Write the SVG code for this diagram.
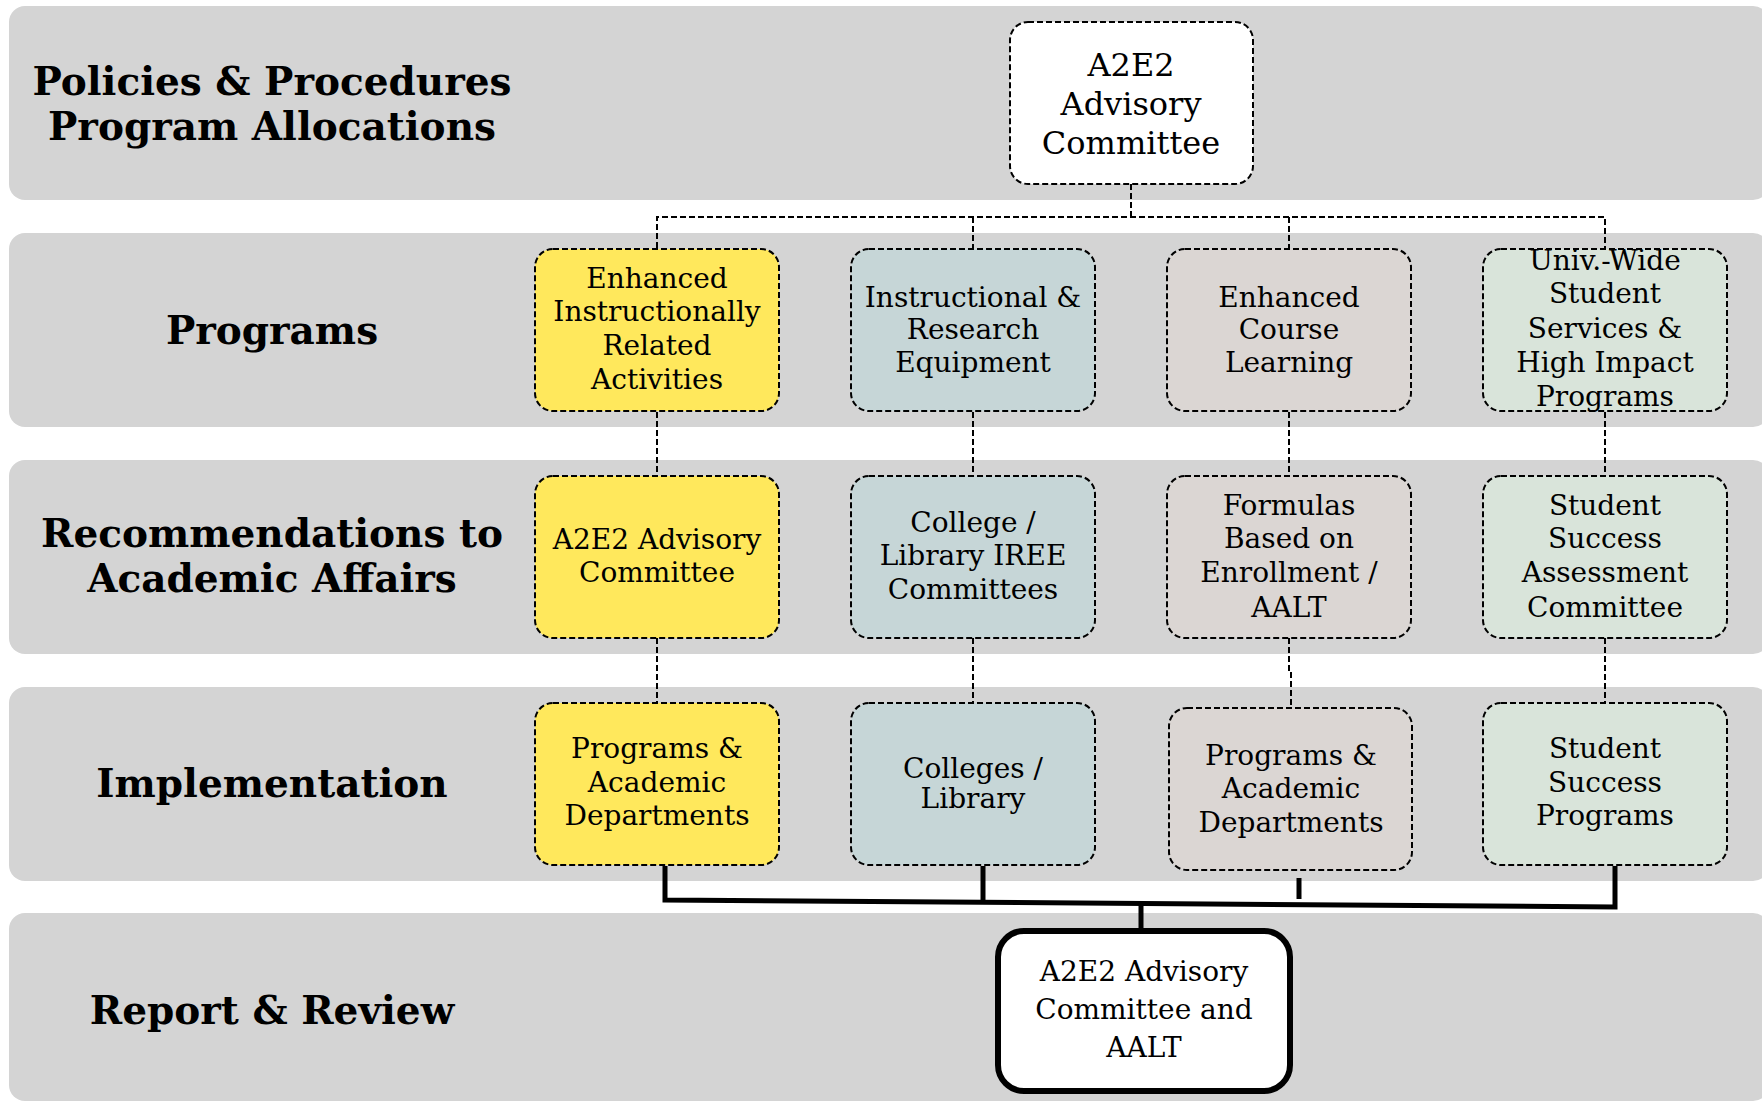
<svg xmlns="http://www.w3.org/2000/svg" width="1762" height="1104" viewBox="0 0 1762 1104">
<style>
.band{fill:#d4d4d4}
.lbl{font-family:"DejaVu Serif","Liberation Serif",serif;font-weight:bold;font-size:39px;fill:#000;text-anchor:middle}
.t{font-family:"DejaVu Serif","Liberation Serif",serif;font-size:28px;fill:#000;text-anchor:middle}
.tb{font-family:"DejaVu Serif","Liberation Serif",serif;font-size:32px;fill:#000;text-anchor:middle}
.n{stroke:#000;stroke-width:2;stroke-dasharray:6 3}
.dc{fill:none;stroke:#000;stroke-width:2;stroke-dasharray:6 3}
.sc{fill:none;stroke:#000;stroke-width:5}
.y{fill:#ffe85c}.b{fill:#c6d6d7}.g{fill:#dbd6d3}.gr{fill:#d9e4da}.w{fill:#fff}
</style>
<g id="bands">
<rect class="band" x="9" y="6" width="1760" height="194" rx="16"/>
<rect class="band" x="9" y="233" width="1760" height="194" rx="16"/>
<rect class="band" x="9" y="460" width="1760" height="194" rx="16"/>
<rect class="band" x="9" y="687" width="1760" height="194" rx="16"/>
<rect class="band" x="9" y="913" width="1760" height="188" rx="16"/>
</g>
<g id="labels">
<text class="lbl" x="272" y="95">Policies &amp; Procedures</text>
<text class="lbl" x="272" y="140">Program Allocations</text>
<text class="lbl" x="272" y="344">Programs</text>
<text class="lbl" x="272" y="547">Recommendations to</text>
<text class="lbl" x="272" y="592">Academic Affairs</text>
<text class="lbl" x="272" y="797">Implementation</text>
<text class="lbl" x="272" y="1024">Report &amp; Review</text>
</g>
<g id="connectors">
<polyline class="dc" points="1131,184 1131,217"/>
<polyline class="dc" points="657,248 657,217 1605,217 1605,248"/>
<polyline class="dc" points="973,217 973,248"/>
<polyline class="dc" points="1289,217 1289,248"/>
<line class="dc" x1="657" y1="412" x2="657" y2="475"/>
<line class="dc" x1="973" y1="412" x2="973" y2="475"/>
<line class="dc" x1="1289" y1="412" x2="1289" y2="475"/>
<line class="dc" x1="1605" y1="412" x2="1605" y2="475"/>
<line class="dc" x1="657" y1="638" x2="657" y2="702"/>
<line class="dc" x1="973" y1="638" x2="973" y2="702"/>
<polyline class="dc" points="1289,638 1289,672 1291,672 1291,707"/>
<line class="dc" x1="1605" y1="638" x2="1605" y2="702"/>
<polyline class="sc" points="665,866 665,900 1615,907 1615,866"/>
<line class="sc" x1="983" y1="866" x2="983" y2="902"/>
<line class="sc" x1="1299" y1="878" x2="1299" y2="899"/>
<line class="sc" x1="1141" y1="904" x2="1141" y2="931"/>
</g>
<g id="n-top">
<rect class="n w" x="1010" y="22" width="243" height="162" rx="18"/>
<text class="tb" x="1131" y="76">A2E2</text>
<text class="tb" x="1131" y="115">Advisory</text>
<text class="tb" x="1131" y="154">Committee</text>
</g>
<g id="n-p1">
<rect class="n y" x="535" y="249" width="244" height="162" rx="18"/>
<text class="t" x="657" y="288">Enhanced</text>
<text class="t" x="657" y="321">Instructionally</text>
<text class="t" x="657" y="355">Related</text>
<text class="t" x="657" y="389">Activities</text>
</g>
<g id="n-p2">
<rect class="n b" x="851" y="249" width="244" height="162" rx="18"/>
<text class="t" x="973" y="307">Instructional &amp;</text>
<text class="t" x="973" y="339">Research</text>
<text class="t" x="973" y="372">Equipment</text>
</g>
<g id="n-p3">
<rect class="n g" x="1167" y="249" width="244" height="162" rx="18"/>
<text class="t" x="1289" y="307">Enhanced</text>
<text class="t" x="1289" y="339">Course</text>
<text class="t" x="1289" y="372">Learning</text>
</g>
<g id="n-p4">
<rect class="n gr" x="1483" y="249" width="244" height="162" rx="18"/>
<text class="t" x="1605" y="270">Univ.-Wide</text>
<text class="t" x="1605" y="303">Student</text>
<text class="t" x="1605" y="338">Services &amp;</text>
<text class="t" x="1605" y="372">High Impact</text>
<text class="t" x="1605" y="406">Programs</text>
</g>
<g id="n-r1">
<rect class="n y" x="535" y="476" width="244" height="162" rx="18"/>
<text class="t" x="657" y="549">A2E2 Advisory</text>
<text class="t" x="657" y="582">Committee</text>
</g>
<g id="n-r2">
<rect class="n b" x="851" y="476" width="244" height="162" rx="18"/>
<text class="t" x="973" y="532">College /</text>
<text class="t" x="973" y="565">Library IREE</text>
<text class="t" x="973" y="599">Committees</text>
</g>
<g id="n-r3">
<rect class="n g" x="1167" y="476" width="244" height="162" rx="18"/>
<text class="t" x="1289" y="515">Formulas</text>
<text class="t" x="1289" y="548">Based on</text>
<text class="t" x="1289" y="582">Enrollment /</text>
<text class="t" x="1289" y="617">AALT</text>
</g>
<g id="n-r4">
<rect class="n gr" x="1483" y="476" width="244" height="162" rx="18"/>
<text class="t" x="1605" y="515">Student</text>
<text class="t" x="1605" y="548">Success</text>
<text class="t" x="1605" y="582">Assessment</text>
<text class="t" x="1605" y="617">Committee</text>
</g>
<g id="n-i1">
<rect class="n y" x="535" y="703" width="244" height="162" rx="18"/>
<text class="t" x="657" y="758">Programs &amp;</text>
<text class="t" x="657" y="792">Academic</text>
<text class="t" x="657" y="825">Departments</text>
</g>
<g id="n-i2">
<rect class="n b" x="851" y="703" width="244" height="162" rx="18"/>
<text class="t" x="973" y="778">Colleges /</text>
<text class="t" x="973" y="808">Library</text>
</g>
<g id="n-i3">
<rect class="n g" x="1169" y="708" width="243" height="162" rx="18"/>
<text class="t" x="1291" y="765">Programs &amp;</text>
<text class="t" x="1291" y="798">Academic</text>
<text class="t" x="1291" y="832">Departments</text>
</g>
<g id="n-i4">
<rect class="n gr" x="1483" y="703" width="244" height="162" rx="18"/>
<text class="t" x="1605" y="758">Student</text>
<text class="t" x="1605" y="792">Success</text>
<text class="t" x="1605" y="825">Programs</text>
</g>
<g id="n-report">
<rect x="998" y="931" width="292" height="160" rx="26" fill="#fff" stroke="#000" stroke-width="6"/>
<text class="t" x="1144" y="981">A2E2 Advisory</text>
<text class="t" x="1144" y="1019">Committee and</text>
<text class="t" x="1144" y="1057">AALT</text>
</g>
</svg>
